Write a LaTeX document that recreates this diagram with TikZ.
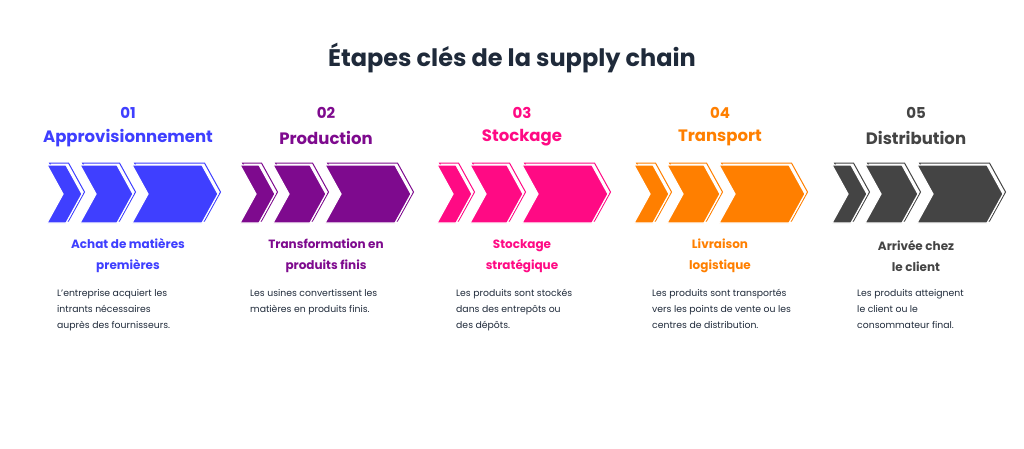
\documentclass[tikz,border=0pt]{standalone}
\usepackage{fontspec}
\setmainfont{Poppins}
\definecolor{cblue}{HTML}{3F3FFF}
\definecolor{cpurple}{HTML}{7E0A8E}
\definecolor{cpink}{HTML}{FF0A84}
\definecolor{corange}{HTML}{FF7F00}
\definecolor{cgray}{HTML}{444444}
\definecolor{navy}{HTML}{1F2A3A}
\newcommand\chevshape[3]{%
  \draw[#3,line width=1pt,shift={(2.5,-2)}] (#1,165) -- ++(#2,0) -- ++(16,29) -- ++(-16,29) -- ++(-#2,0) -- ++(16,-29) -- cycle;
  \fill[#3,draw=white,line width=1.2pt] (#1,165) -- ++(#2,0) -- ++(16,29) -- ++(-16,29) -- ++(-#2,0) -- ++(16,-29) -- cycle;}
\tikzset{num/.style={font=\fontsize{15}{18}\selectfont\bfseries},
  ttl/.style={font=\fontsize{16.5}{20}\selectfont\bfseries},
  sub/.style={font=\fontsize{12}{21}\selectfont\bfseries,align=center},
  desc/.style={font=\fontsize{9.3}{16}\selectfont,align=left,anchor=north west,text=navy,inner sep=0pt}}
\begin{document}
\begin{tikzpicture}[x=1pt,y=-1pt]
\useasboundingbox (0,0) rectangle (1024,448);
\node[font=\fontsize{24}{28}\selectfont\bfseries,text=navy] (title) at (512,58) {Étapes clés de la supply chain};
\foreach \i/\dx/\col/\cx/\dxl/\n/\t/\s/\d in {
 1/0/cblue/128/57/01/Approvisionnement/{Achat de matières\\premières}/{L’entreprise acquiert les\\intrants nécessaires\\auprès des fournisseurs.},
 2/193/cpurple/326/250/02/Production/{Transformation en\\produits finis}/{Les usines convertissent les\\matières en produits finis.},
 3/390/cpink/522/456/03/Stockage/{Stockage\\stratégique}/{Les produits sont stockés\\dans des entrepôts ou\\des dépôts.},
 4/587/corange/720/652/04/Transport/{Livraison\\logistique}/{Les produits sont transportés\\vers les points de vente ou les\\centres de distribution.},
 5/785/cgray/916/857/05/Distribution/{Arrivée chez\\le client}/{Les produits atteignent\\le client ou le\\consommateur final.}}{
  \chevshape{\dx+47}{19}{\col}
  \chevshape{\dx+80}{37}{\col}
  \chevshape{\dx+132}{70}{\col}
  \node[num,text=\col] (n\i) at (\cx,113) {\n};
  \node[ttl,text=\col] (t\i) at (\cx,138) {\t};
  \node[sub,text=\col] (s\i) at (\cx,256) {\s};
  \node[desc] (d\i) at (\dxl,289) {\d};
}
\end{tikzpicture}
\end{document}
